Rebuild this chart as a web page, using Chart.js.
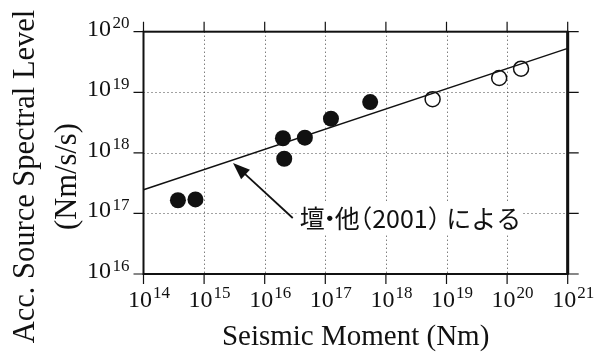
<!DOCTYPE html>
<html><head><meta charset="utf-8">
<script src="https://cdn.jsdelivr.net/npm/chart.js@4.4.0/dist/chart.umd.min.js"></script>
<style>html,body{margin:0;padding:0;background:#fff;}#wrap{width:605px;height:354px;}</style>
</head><body><div id="wrap"><canvas id="c" width="605" height="354"></canvas></div>
<script>
// ---- data ----
const xTicks = [1e14, 1e15, 1e16, 1e17, 1e18, 1e19, 1e20, 1e21];
const xExponents = ['14', '15', '16', '17', '18', '19', '20', '21'];
const yTicks = [1e16, 1e17, 1e18, 1e19, 1e20];
const yExponents = ['16', '17', '18', '19', '20'];
const filledMoment = [3.7e14, 7.2e14, 2.0e16, 2.1e16, 4.6e16, 1.24e17, 5.5e17];
const filledLevel  = [1.65e17, 1.7e17, 1.74e18, 8.0e17, 1.78e18, 3.66e18, 6.9e18];
const openMoment = [5.9e18, 7.4e19, 1.7e20];
const openLevel  = [7.7e18, 1.72e19, 2.45e19];
const lineMoment = [1e14, 1e21];
const lineLevel  = [2.46e17, 5.3e19];
const xTitle = 'Seismic Moment (Nm)';
const yTitleLines = ['Acc. Source Spectral Level', '(Nm/s/s)'];
const noteParts = ['壇', '・', '他', '（', '2001', '）', 'による'];
const noteArrowFrom = {x: 2.9e16, y: 8.4e16};
const noteArrowTo = {x: 3.0e15, y: 6.8e17};

const toPts = (xs, ys) => xs.map((x, i) => ({x: x, y: ys[i]}));

const gridPlugin = {
  id: 'dotgrid',
  beforeDatasetsDraw(chart) {
    const ctx = chart.ctx, a = chart.chartArea;
    const xs = chart.scales.x, ys = chart.scales.y;
    ctx.save();
    ctx.strokeStyle = '#444'; ctx.lineWidth = 1; ctx.setLineDash([1, 3]);
    ctx.beginPath();
    xTicks.slice(1, -1).forEach(v => {
      const p = Math.round(xs.getPixelForValue(v)) + 0.5;
      ctx.moveTo(p, a.top); ctx.lineTo(p, a.bottom);
    });
    yTicks.slice(1, -1).forEach(v => {
      const p = Math.round(ys.getPixelForValue(v)) + 0.5;
      ctx.moveTo(a.left, p); ctx.lineTo(a.right, p);
    });
    ctx.stroke();
    ctx.restore();
  }
};

const decor = {
  id: 'decor',
  afterDatasetsDraw(chart) {
    const ctx = chart.ctx, a = chart.chartArea;
    const xs = chart.scales.x, ys = chart.scales.y;
    ctx.save();
    // annotation arrow + text
    const fx = xs.getPixelForValue(noteArrowFrom.x), fy = ys.getPixelForValue(noteArrowFrom.y);
    const tx = xs.getPixelForValue(noteArrowTo.x), ty = ys.getPixelForValue(noteArrowTo.y);
    const fs = 25;
    ctx.font = fs + 'px "Noto Sans CJK JP"'; ctx.textAlign = 'left'; ctx.textBaseline = 'middle';
    // advances: punctuation narrowed
    const adv = [fs, fs * 0.4, fs, fs * 0.5, null, fs * 0.5, null];
    const shift = [0, -fs * 0.3, 0, -fs * 0.5, 0, 0, fs * 0.12];
    let x0 = fx + 7;
    const startX = x0;
    const placed = [];
    noteParts.forEach((t, i) => {
      const w = adv[i] != null ? adv[i] : ctx.measureText(t).width;
      placed.push([t, x0 + shift[i]]);
      x0 += w + (i === 6 ? 0 : 0) + (i === 5 ? fs * 0.12 : 0);
    });
    ctx.fillStyle = '#fff';
    ctx.fillRect(startX - 3, fy - 17, x0 - startX + 6, 34);
    ctx.fillStyle = '#111';
    placed.forEach(([t, x]) => ctx.fillText(t, x, fy));

    const ang = Math.atan2(ty - fy, tx - fx);
    const hl = 17, hw = 6.5;
    const bx = tx - hl * Math.cos(ang), by = ty - hl * Math.sin(ang);
    ctx.strokeStyle = '#111';
    ctx.lineWidth = 1.8; ctx.beginPath(); ctx.moveTo(fx, fy); ctx.lineTo(bx + 2 * Math.cos(ang), by + 2 * Math.sin(ang)); ctx.stroke();
    ctx.beginPath(); ctx.moveTo(tx, ty);
    ctx.lineTo(bx + hw * Math.sin(ang), by - hw * Math.cos(ang));
    ctx.lineTo(bx - hw * Math.sin(ang), by + hw * Math.cos(ang));
    ctx.closePath(); ctx.fill();

    // frame
    ctx.strokeStyle = '#111'; ctx.lineWidth = 2; ctx.setLineDash([]);
    ctx.strokeRect(a.left, a.top, a.right - a.left, a.bottom - a.top);
    ctx.lineWidth = 3; ctx.beginPath(); ctx.moveTo(a.right, a.top); ctx.lineTo(a.right, a.bottom); ctx.stroke();
    // ticks
    ctx.lineWidth = 1.2; ctx.beginPath();
    xTicks.forEach(v => {
      const p = xs.getPixelForValue(v);
      ctx.moveTo(p, a.top - 10); ctx.lineTo(p, a.top);
      ctx.moveTo(p, a.bottom); ctx.lineTo(p, a.bottom + 10);
    });
    yTicks.forEach(v => {
      const p = ys.getPixelForValue(v);
      ctx.moveTo(a.left - 10, p); ctx.lineTo(a.left, p);
      ctx.moveTo(a.right, p); ctx.lineTo(a.right + 11, p);
    });
    ctx.stroke();
    // tick labels
    ctx.fillStyle = '#111';
    const big = '24px "Liberation Serif"', small = '17px "Liberation Serif"';
    xTicks.forEach((v, i) => {
      const p = xs.getPixelForValue(v);
      ctx.font = big; ctx.textAlign = 'right'; ctx.textBaseline = 'alphabetic';
      ctx.fillText('10', p + 8.5, a.bottom + 33);
      ctx.font = small; ctx.textAlign = 'left';
      ctx.fillText(xExponents[i], p + 9.5, a.bottom + 23.5);
    });
    yTicks.forEach((v, i) => {
      const p = ys.getPixelForValue(v);
      ctx.font = small; ctx.textAlign = 'right'; ctx.textBaseline = 'alphabetic';
      const ex = yExponents[i];
      const w = ctx.measureText(ex).width;
      ctx.fillText(ex, a.left - 14, p - 3.5);
      ctx.font = big;
      ctx.fillText('10', a.left - 14 - w - 1.5, p + 4);
    });
    // axis titles
    ctx.font = '29px "Liberation Serif"'; ctx.textAlign = 'center';
    ctx.fillText(xTitle, (a.left + a.right) / 2, 345);
    ctx.save();
    ctx.font = '30.5px "Liberation Serif"';
    ctx.translate(0, 176.5); ctx.rotate(-Math.PI / 2);
    ctx.fillText(yTitleLines[0], 0, 34);
    ctx.fillText(yTitleLines[1], 0, 76);
    ctx.restore();
    ctx.restore();
  }
};

new Chart(document.getElementById('c'), {
  type: 'scatter',
  data: {
    datasets: [
      {data: toPts(lineMoment, lineLevel), showLine: true, borderColor: '#111', borderWidth: 1.5, pointRadius: 0, fill: false, order: 3},
      {data: toPts(filledMoment, filledLevel), pointRadius: 8, pointBackgroundColor: '#111', pointBorderColor: '#111', pointBorderWidth: 0, order: 1},
      {data: toPts(openMoment, openLevel), pointRadius: 7.5, pointBackgroundColor: 'rgba(0,0,0,0)', pointBorderColor: '#111', pointBorderWidth: 1.5, order: 2}
    ]
  },
  options: {
    responsive: false, animation: false, events: [], devicePixelRatio: 1,
    layout: {padding: {left: 143.5, right: 37.3, top: 31.7, bottom: 80}},
    plugins: {legend: {display: false}, tooltip: {enabled: false}},
    scales: {
      x: {type: 'logarithmic', min: 1e14, max: 1e21,
          afterBuildTicks: s => { s.ticks = xTicks.map(v => ({value: v})); },
          afterFit: s => { s.height = 0; },
          ticks: {display: false},
          grid: {display: false},
          border: {display: false}},
      y: {type: 'logarithmic', min: 1e16, max: 1e20,
          afterBuildTicks: s => { s.ticks = yTicks.map(v => ({value: v})); },
          afterFit: s => { s.width = 0; },
          ticks: {display: false},
          grid: {display: false},
          border: {display: false}}
    }
  },
  plugins: [gridPlugin, decor]
});
</script></body></html>
